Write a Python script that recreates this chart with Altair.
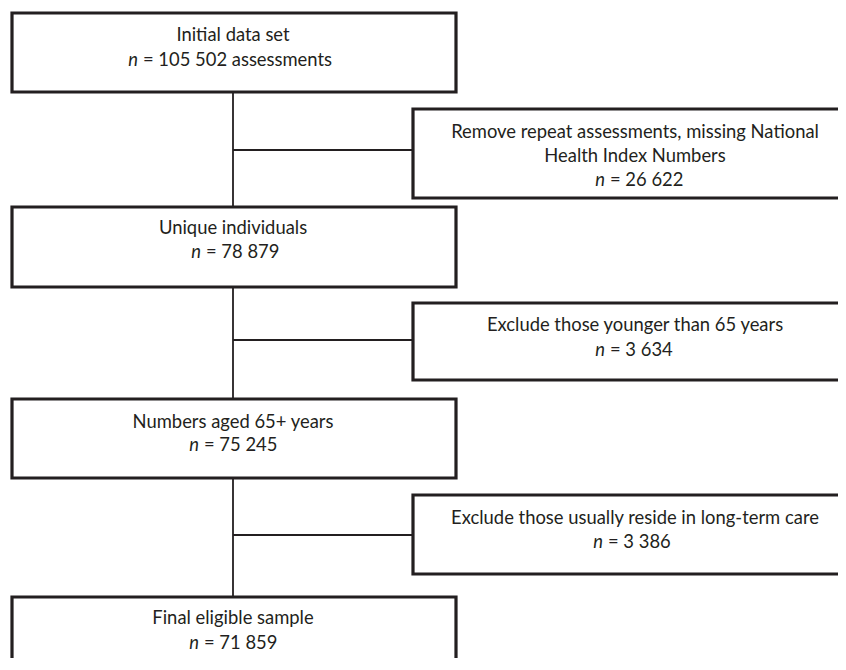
import altair as alt
import pandas as pd

# ---- content ----
box_names = ["b1", "b2", "b3", "b4", "r1", "r2", "r3"]
box_x1 = [12, 12, 12, 12, 413, 413, 413]
box_x2 = [456, 456, 456, 456, 900, 900, 900]
box_y1 = [13, 207, 399, 597, 109, 303, 495]
box_y2 = [92, 287, 478, 720, 198, 380, 574]

title_lines = ["Initial data set", "Unique individuals", "Numbers aged 65+ years",
               "Final eligible sample", "Remove repeat assessments, missing National",
               "Health Index Numbers", "Exclude those younger than 65 years",
               "Exclude those usually reside in long-term care"]
title_x = [233, 233, 233, 233, 635, 635, 635, 635]
title_y = [35, 228, 422, 618, 132, 156, 325, 518]

n_values = ["105 502 assessments", "78 879", "75 245", "71 859", "26 622", "3 634", "3 386"]
n_x = [143, 206, 204, 204, 610, 610, 608]
n_y = [60, 252, 445, 643, 180, 350, 542]

spine_x = [233]
spine_y1 = [92]
spine_y2 = [597]
conn_x1 = [233, 233, 233]
conn_x2 = [413, 413, 413]
conn_y = [150, 340, 535]

INK = "#231f20"
FONT = "Lato"
FS = 18.4

xs = alt.Scale(domain=[8, 838], nice=False, zero=False)
ys = alt.Scale(domain=[8, 658], nice=False, zero=False, reverse=True)


def X(f):
    return alt.X(f, type="quantitative", scale=xs, axis=None)


def Y(f):
    return alt.Y(f, type="quantitative", scale=ys, axis=None)


boxes = pd.DataFrame({"name": box_names, "x": box_x1, "x2": box_x2, "y": box_y1, "y2": box_y2})
titles = pd.DataFrame({"t": title_lines, "x": title_x, "y": title_y})
nlines = pd.DataFrame({"t": ["= " + v for v in n_values], "x": n_x, "y": n_y,
                       "nx": [v - 5 for v in n_x]})
spine = pd.DataFrame({"x": spine_x, "y": spine_y1, "y2": spine_y2})
conns = pd.DataFrame({"x": conn_x1, "x2": conn_x2, "y": conn_y})

spine_l = alt.Chart(spine).mark_rule(color=INK, strokeWidth=1.8, clip=True).encode(
    x=X("x"), y=Y("y"), y2="y2")
conn_l = alt.Chart(conns).mark_rule(color=INK, strokeWidth=1.8, clip=True).encode(
    x=X("x"), x2="x2", y=Y("y"))
box_l = alt.Chart(boxes).mark_rect(fill="white", stroke=INK, strokeWidth=3.2, clip=True).encode(
    x=X("x"), x2="x2", y=Y("y"), y2="y2")
title_l = alt.Chart(titles).mark_text(font=FONT, fontSize=FS, color=INK, align="center",
                                      baseline="middle").encode(x=X("x"), y=Y("y"), text="t:N")
rest_l = alt.Chart(nlines).mark_text(font=FONT, fontSize=FS, color=INK, align="left",
                                     baseline="middle").encode(x=X("x"), y=Y("y"), text="t:N")
n_l = alt.Chart(nlines).mark_text(font=FONT, fontSize=FS, color=INK, align="right",
                                  baseline="middle", fontStyle="italic").encode(
    x=X("nx"), y=Y("y"), text=alt.value("n"))

chart = alt.layer(spine_l, conn_l, box_l, title_l, rest_l, n_l).properties(
    width=830, height=650, padding=0, autosize=alt.AutoSizeParams(type="none")
).configure_view(stroke=None)

chart.save("out.html", embed_options={"renderer": "svg", "actions": False})
